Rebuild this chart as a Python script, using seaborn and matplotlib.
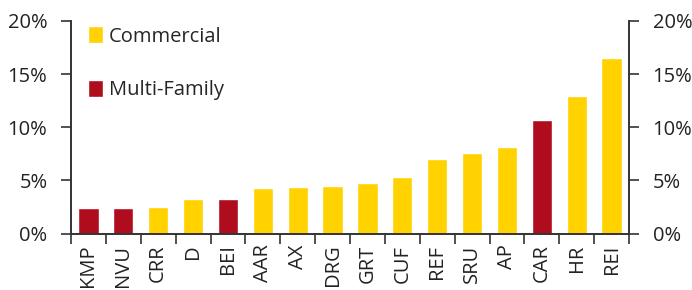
import matplotlib
matplotlib.use("Agg")
import matplotlib.pyplot as plt
import numpy as np
import pandas as pd
import seaborn as sns

# data
tickers = ["KMP", "NVU", "CRR", "D", "BEI", "AAR", "AX", "DRG", "GRT", "CUF",
           "REF", "SRU", "AP", "CAR", "HR", "REI"]
values = [2.38, 2.44, 2.5, 3.22, 3.28, 4.28, 4.37, 4.46, 4.78, 5.28,
          7.0, 7.56, 8.12, 10.66, 12.92, 16.52]
groups = ["Multi-Family", "Multi-Family", "Commercial", "Commercial", "Multi-Family",
          "Commercial", "Commercial", "Commercial", "Commercial", "Commercial",
          "Commercial", "Commercial", "Commercial", "Multi-Family", "Commercial", "Commercial"]
group_order = ["Commercial", "Multi-Family"]
y_ticks = [0, 5, 10, 15, 20]

df = pd.DataFrame({"ticker": tickers, "value": values, "group": groups})

sns.set_style("white")
plt.rcParams["font.family"] = ["Open Sans", "DejaVu Sans"]
plt.rcParams["font.size"] = 13.5
dark = "#333333"

fig = plt.figure(figsize=(6.92, 2.9), dpi=100)
ax = fig.add_axes([71 / 692, 1 - 233.5 / 290, 558 / 692, 212.5 / 290])

sns.barplot(data=df, x="ticker", y="value", hue="group", hue_order=group_order,
            palette={"Commercial": "#FFD200", "Multi-Family": "#AF0C1E"},
            dodge=False, width=0.58, saturation=1, ax=ax)

ax.set_xlim(-0.5, len(tickers) - 0.5)
ax.set_ylim(0, 20)
ax.set_xlabel("")
ax.set_ylabel("")

# category boundaries get the tick marks, labels sit at the centres
ax.set_xticks(np.arange(-0.5, len(tickers)), labels=[""] * (len(tickers) + 1))
ax.set_xticks(np.arange(len(tickers)), labels=tickers, minor=True)
ax.tick_params(axis="x", which="major", direction="out", length=7, width=1.2,
               color=dark, bottom=True)
ax.tick_params(axis="x", which="minor", length=0, pad=8, labelrotation=90,
               labelsize=14.5, labelcolor="#222222")

ax.set_yticks(y_ticks, labels=[f"{t}%" for t in y_ticks])
ax.tick_params(axis="y", direction="out", length=7, width=1.2, color=dark,
               left=True, labelsize=14.5, labelcolor="#222222", pad=10)

ax2 = ax.twinx()
ax2.set_ylim(0, 20)
ax2.set_yticks(y_ticks, labels=[f"{t}%" for t in y_ticks])
ax2.tick_params(axis="y", direction="out", length=7, width=1.2, color=dark,
                right=True, labelsize=14.5, labelcolor="#222222", pad=10)

for a in (ax, ax2):
    a.spines["top"].set_visible(False)
    for s in ("left", "right", "bottom"):
        a.spines[s].set_color(dark)
        a.spines[s].set_linewidth(1.2)

handles, labels = ax.get_legend_handles_labels()
ax.legend(handles, labels, frameon=False, loc="upper left",
          bbox_to_anchor=(80 / 692, 1 - 18 / 290), bbox_transform=fig.transFigure,
          handlelength=0.75, handleheight=0.95, handletextpad=0.3,
          labelspacing=1.65, fontsize=14.5, borderaxespad=0)

fig.savefig("out.png", dpi=100)
